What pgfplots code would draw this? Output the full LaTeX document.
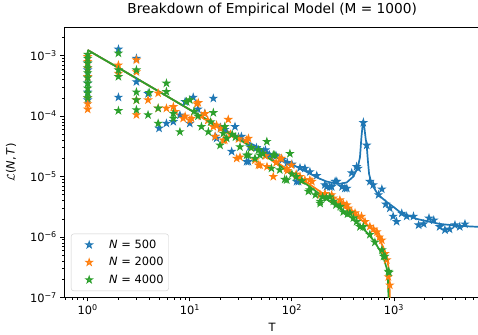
\documentclass[border=0pt]{standalone}
\usepackage{fontspec}
\setmainfont{DejaVu Sans}
\usepackage{pgfplots}
\pgfplotsset{compat=1.18}
\definecolor{tabblue}{HTML}{1F77B4}
\definecolor{taborange}{HTML}{FF7F0E}
\definecolor{tabgreen}{HTML}{2CA02C}
\pgfdeclareplotmark{fstar}{%
  \pgfpathmoveto{\pgfqpointpolar{90}{\pgfplotmarksize}}%
  \pgfpathlineto{\pgfqpointpolar{126}{0.382\pgfplotmarksize}}%
  \pgfpathlineto{\pgfqpointpolar{162}{\pgfplotmarksize}}%
  \pgfpathlineto{\pgfqpointpolar{198}{0.382\pgfplotmarksize}}%
  \pgfpathlineto{\pgfqpointpolar{234}{\pgfplotmarksize}}%
  \pgfpathlineto{\pgfqpointpolar{270}{0.382\pgfplotmarksize}}%
  \pgfpathlineto{\pgfqpointpolar{306}{\pgfplotmarksize}}%
  \pgfpathlineto{\pgfqpointpolar{342}{0.382\pgfplotmarksize}}%
  \pgfpathlineto{\pgfqpointpolar{18}{\pgfplotmarksize}}%
  \pgfpathlineto{\pgfqpointpolar{54}{0.382\pgfplotmarksize}}%
  \pgfpathclose
  \pgfusepathqfillstroke
}
\pgfplotsset{
  starplot/.style={only marks, mark=fstar, mark size=3.4pt,
    mark options={draw=#1, fill=#1, line width=1.0pt, line join=miter},
    legend image code/.code={\path[draw=none,fill=none] (0pt,-4pt) rectangle (33pt,4pt);
      \draw[##1] plot coordinates {(15pt,0pt)};}},
  fitline/.style={draw=#1, line width=1.7pt, no marks, forget plot},
}
\begin{document}
\begin{tikzpicture}
\begin{axis}[
  at={(0,0)}, anchor=south west,
  scale only axis, width=415.7pt, height=270.2pt,
  xmode=log, ymode=log,
  xmin=0.59, xmax=6950, ymin=1e-7, ymax=2.95e-3,
  axis line style={line width=0.9pt},
  tick align=outside, xtick pos=bottom, ytick pos=left,
  major tick length=4pt, minor tick length=2.3pt,
  every tick/.style={black, line width=0.9pt},
  minor tick style={line width=0.7pt},
  xtick={1,10,100,1000},
  xticklabels={10\textsuperscript{0},10\textsuperscript{1},10\textsuperscript{2},10\textsuperscript{3}},
  minor xtick={0.6,0.7,0.8,0.9,2,3,4,5,6,7,8,9,20,30,40,50,60,70,80,90,200,300,400,500,600,700,800,900,2000,3000,4000,5000,6000},
  ytick={1e-7,1e-6,1e-5,1e-4,1e-3},
  yticklabels={10\textsuperscript{−7},10\textsuperscript{−6},10\textsuperscript{−5},10\textsuperscript{−4},10\textsuperscript{−3}},
  minor ytick={2e-7,3e-7,4e-7,5e-7,6e-7,7e-7,8e-7,9e-7,2e-6,3e-6,4e-6,5e-6,6e-6,7e-6,8e-6,9e-6,2e-5,3e-5,4e-5,5e-5,6e-5,7e-5,8e-5,9e-5,2e-4,3e-4,4e-4,5e-4,6e-4,7e-4,8e-4,9e-4,2e-3},
  tick label style={font=\fontsize{11.4}{13.7}\selectfont},
  title={Breakdown of Empirical Model (M = 1000)},
  title style={font=\fontsize{13.7}{16}\selectfont, at={(axis description cs:0.5,1)}, anchor=base, yshift=8pt},
  xlabel={T},
  xlabel style={font=\fontsize{11.4}{13.7}\selectfont, at={(axis description cs:0.5,-0.1265)}, anchor=base},
  ylabel={$\mathcal{L}$(\textit{N},\,\textit{T})},
  ylabel style={font=\fontsize{11.4}{13.7}\selectfont, at={(axis description cs:-0.1282,0.5)}, anchor=center},
  legend cell align=left,
  legend style={at={(axis description cs:0,0)}, anchor=south west, xshift=6.7pt, yshift=6.5pt,
    draw=black!20, rounded corners=2.5pt, fill=white, fill opacity=0.8, text opacity=1,
    font=\fontsize{11.4}{13.7}\selectfont, row sep=3.5pt, inner xsep=3pt, inner ysep=4pt},
]
% N = 500
\addplot[starplot=tabblue] coordinates {
(1,7.5e-4)(1,5.8e-4)(1,4.5e-4)(1,3.5e-4)(1,2.5e-4)(1,1.85e-4)
(2,1.28e-3)(2,2.05e-4)(3,9.0e-4)(3,3.7e-4)(3.9,2.35e-4)
(5,6.3e-5)(5.9,7.6e-5)(6.9,8.1e-5)(8,1.04e-4)(9,1.73e-4)(10,7.6e-5)(10.8,2.05e-4)
(12,1.3e-4)(14,1.1e-4)(17,1.97e-4)(17.7,4.6e-5)(18.3,4.3e-5)(20,6.5e-5)(22,6.0e-5)
(25.7,2.6e-5)(27.7,6.7e-5)(30,4.5e-5)(32,4.6e-5)(36,1.77e-5)(37.5,1.77e-5)(38.7,3.1e-5)
(45,3.0e-5)(52.5,2.6e-5)(55,2.75e-5)(60,2.3e-5)(70,2.2e-5)(80,1.9e-5)(90,1.7e-5)(100,1.6e-5)
(111,8.3e-6)(116,8.3e-6)(120,1.4e-5)(134,1.37e-5)(150,1.2e-5)(175,1.04e-5)(210,7.3e-6)
(219,6.8e-6)(235,6.8e-6)(245,6.8e-6)(265,8.3e-6)(275,8.3e-6)(310,6.8e-6)(330,6.4e-6)
(345,6.4e-6)(385,1.15e-5)(430,1.46e-5)(445,1.37e-5)(500,7.8e-5)(540,3.3e-5)(580,8.3e-6)
(625,7.3e-6)(705,5.0e-6)(760,6.2e-6)(830,3.5e-6)(910,3.0e-6)(980,2.2e-6)(1060,1.8e-6)
(1190,2.47e-6)(1330,2.2e-6)(1550,2.2e-6)(1740,1.58e-6)(1950,1.65e-6)(2200,2.05e-6)
(2450,1.9e-6)(2800,1.48e-6)(3150,1.31e-6)(3500,1.35e-6)(3950,1.58e-6)(4400,1.48e-6)(4950,1.64e-6)
};
\addlegendentry{\textit{N} = 500}
\addplot[fitline=tabblue] coordinates {
(1,1.24e-3)(2,6.3e-4)(5,2.55e-4)(10,1.28e-4)(20,6.5e-5)(30,4.5e-5)(45,3.15e-5)(66,2.27e-5)
(100,1.6e-5)(139,1.2e-5)(180,9.5e-6)(218,8.3e-6)(260,7.8e-6)(295,7.6e-6)(344,8.0e-6)
(399,1.0e-5)(430,1.29e-5)(447,1.55e-5)(464,2.1e-5)(480,4.6e-5)(492,7.0e-5)(502,8.1e-5)
(515,6.0e-5)(528,4.2e-5)(540,3.3e-5)(555,1.8e-5)(570,1.1e-5)(600,7.8e-6)(625,6.8e-6)
(700,5.0e-6)(850,3.8e-6)(1000,3.1e-6)(1140,2.6e-6)(1400,2.25e-6)(1660,2.0e-6)(2200,1.8e-6)
(2800,1.65e-6)(4000,1.55e-6)(5500,1.5e-6)(7000,1.47e-6)
};
% N = 2000
\addplot[starplot=taborange] coordinates {
(1,9.6e-4)(1,8.0e-4)(1,6.2e-4)(1,4.5e-4)(1,2.0e-4)(1,1.6e-4)(1,1.3e-4)
(2,7.0e-4)(2,5.1e-4)(3,8.5e-4)(3,5.4e-4)(3,1.85e-4)(3,1.05e-4)
(3.9,1.85e-4)(4.9,2.4e-4)(4.9,1.35e-4)(5.9,1.35e-4)(6.9,1.43e-4)(7.2,1.19e-4)(8.6,9.2e-5)
(9,1.0e-4)(10,8.6e-5)(10.4,9.2e-5)(11.7,1.6e-4)(12.1,1.67e-4)(13,1.0e-4)(14.1,1.1e-4)
(15,8.5e-5)(17,6.7e-5)(17.7,4.6e-5)(18.3,7.1e-5)(20,6.2e-5)(21.3,4.0e-5)(22,4.0e-5)
(23.8,8.8e-5)(25,5.0e-5)(28.8,2.0e-5)(30,4.2e-5)(31,2.1e-5)(36,4.0e-5)(37.5,4.3e-5)
(40,3.0e-5)(43.5,1.88e-5)(47,1.55e-5)(48.7,1.55e-5)(55,2.2e-5)(57,1.46e-5)(65.7,1.0e-5)
(70,1.7e-5)(76,2.0e-5)(79,2.0e-5)(88.8,1.37e-5)(90,1.25e-5)(99,1.55e-5)(110,1.1e-5)
(120,1.0e-5)(134,8.8e-6)(150,8.8e-6)(157,8.3e-6)(189,5.0e-6)(211,5.2e-6)(245,5.0e-6)
(254,4.4e-6)(295,4.1e-6)(318,3.6e-6)(345,3.4e-6)(357,3.0e-6)(385,2.6e-6)(415,2.5e-6)
(447,2.2e-6)(480,2.2e-6)(520,1.8e-6)(580,1.5e-6)(630,1.35e-6)(680,1.22e-6)(720,1.0e-6)
(760,8.9e-7)(815,5.3e-7)(850,4.2e-7)(880,2.2e-7)(910,1.6e-7)
};
\addlegendentry{\textit{N} = 2000}
\addplot[fitline=taborange] coordinates {
(1,1.24e-3)(2,6.3e-4)(5,2.55e-4)(10,1.28e-4)(20,6.5e-5)(50,2.55e-5)(100,1.18e-5)
(150,7.4e-6)(200,5.3e-6)(270,3.9e-6)(370,2.7e-6)(465,2.0e-6)(570,1.5e-6)(680,1.1e-6)
(785,6.8e-7)(850,4.5e-7)(880,3.3e-7)(900,2.0e-7)(908,1.2e-7)(912,1e-9)
};
% N = 4000
\addplot[starplot=tabgreen] coordinates {
(1,1.05e-3)(1,9.0e-4)(1,7.5e-4)(1,6.3e-4)(1,5.2e-4)(1,4.3e-4)(1,3.5e-4)(1,2.9e-4)(1,2.4e-4)(1,2.0e-4)
(2,1.1e-3)(2,5.8e-4)(2,4.5e-4)(2,1.23e-4)(3,5.8e-4)(3,2.5e-4)(3,1.85e-4)(3,1.27e-4)
(4,2.45e-4)(3.9,1.05e-4)(4.9,1.35e-4)(4.9,7.6e-5)(5.9,3.5e-4)(5.9,2.54e-4)(6.9,1.11e-4)
(6.9,9.2e-5)(8,5.5e-5)(9.3,1.73e-4)(10,1.85e-4)(11,1.2e-4)(12,1.0e-4)(13,6.7e-5)(15.2,5.5e-5)
(16,8.0e-5)(17,1.14e-4)(19.8,3.3e-5)(21.3,5.2e-5)(22,6.7e-5)(23,4.3e-5)(26,5.0e-5)(28,4.5e-5)
(31,3.1e-5)(36,2.27e-5)(37.5,2.27e-5)(40,3.0e-5)(43.5,2.0e-5)(47,2.75e-5)(48.7,2.27e-5)
(52,2.4e-5)(56.8,3.8e-5)(63,1.37e-5)(65.7,2.27e-5)(68,2.27e-5)(76,1.29e-5)(85,9.0e-6)
(88.8,8.8e-6)(95.6,2.4e-5)(100,1.1e-5)(110,1.0e-5)(125,8.5e-6)(145,5.7e-6)(150,6.0e-6)
(170,5.0e-6)(189,3.9e-6)(189,3.6e-6)(200,4.6e-6)(218,4.4e-6)(235,4.6e-6)(254,3.9e-6)
(270,3.4e-6)(297,3.2e-6)(318,2.6e-6)(350,2.4e-6)(370,2.5e-6)(400,2.07e-6)(430,1.8e-6)
(464,1.48e-6)(500,1.48e-6)(580,1.1e-6)(650,8.2e-7)(760,6.1e-7)(790,4.8e-7)(815,4.8e-7)
(880,2.7e-7)(895,2.6e-7)
};
\addlegendentry{\textit{N} = 4000}
\addplot[fitline=tabgreen] coordinates {
(1,1.24e-3)(2,6.3e-4)(5,2.55e-4)(10,1.28e-4)(20,6.4e-5)(50,2.45e-5)(100,1.1e-5)
(150,6.8e-6)(200,4.7e-6)(250,3.6e-6)(300,2.9e-6)(370,2.2e-6)(450,1.6e-6)(540,1.2e-6)
(630,8.8e-7)(720,6.2e-7)(790,4.5e-7)(850,3.0e-7)(872,1.9e-7)(880,1.2e-7)(885,5e-8)(887,1e-9)
};
\end{axis}
\pgfresetboundingbox
\path[use as bounding box] (-64.3pt,-36.5pt) rectangle (413.7pt,297.5pt);
\end{tikzpicture}
\end{document}
